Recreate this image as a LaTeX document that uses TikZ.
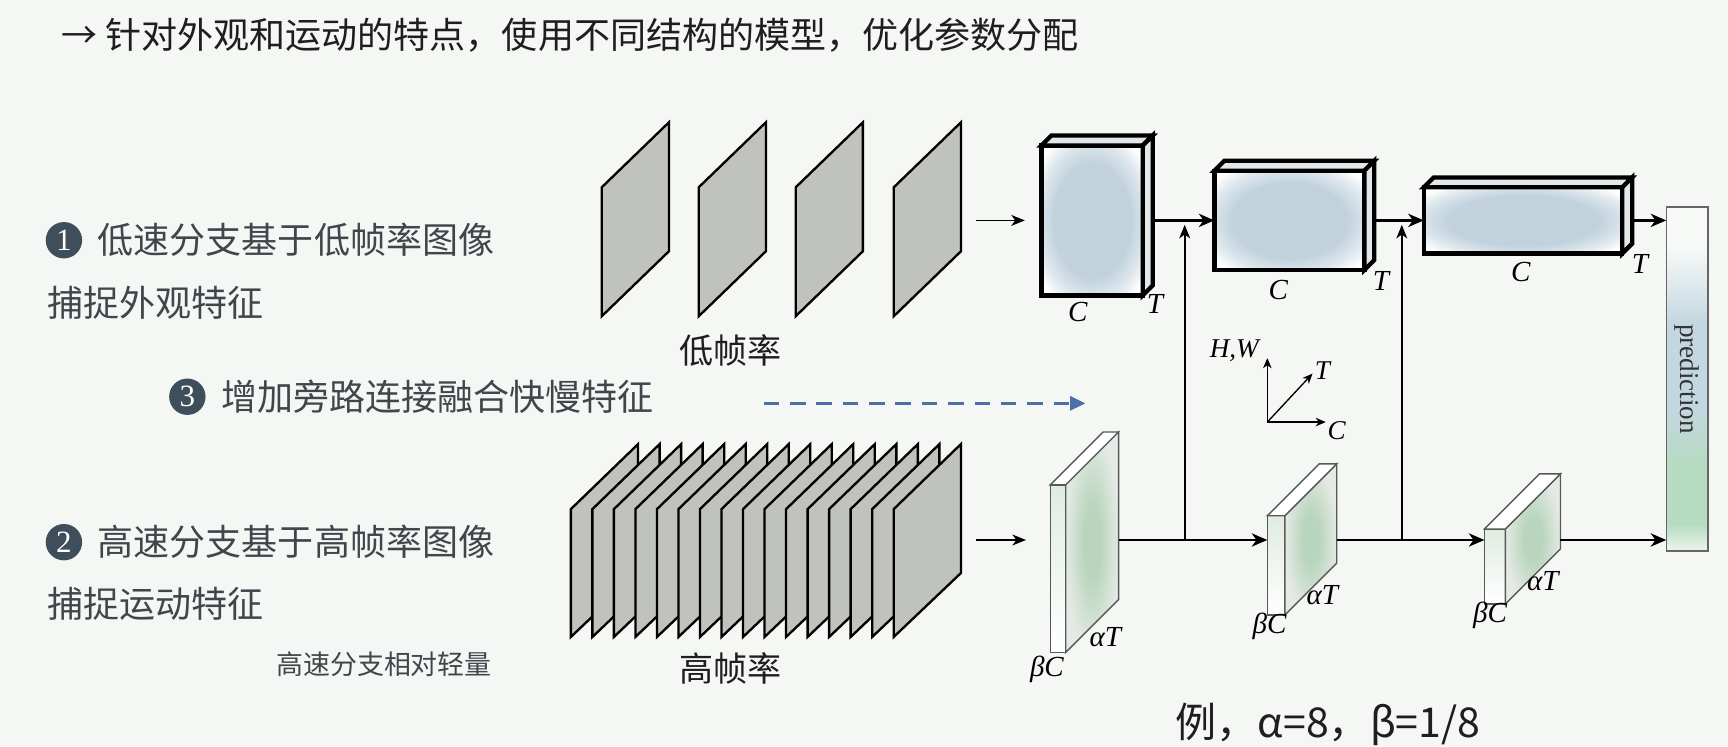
\documentclass[tikz,border=0pt]{standalone}
\usepackage{fontspec}
\setmainfont{Liberation Serif}
\newfontfamily\cjk{Noto Sans CJK SC}
\newfontfamily\tms{Liberation Serif}
\usetikzlibrary{arrows.meta,calc}
\definecolor{bgcol}{HTML}{F5F7F4}
\definecolor{titlecol}{HTML}{1E1E1E}
\definecolor{txtcol}{HTML}{40474C}
\definecolor{circcol}{HTML}{3E4E5B}
\definecolor{framecol}{HTML}{C0C2BD}
\definecolor{sblue}{HTML}{C1D2DD}
\definecolor{sdepthcol}{HTML}{E2E8EA}
\definecolor{fgreen}{HTML}{B9D5BD}
\definecolor{fedge}{HTML}{E6EAE6}
\definecolor{flinecol}{HTML}{555A55}
\definecolor{dashcol}{HTML}{4D6FA8}
\definecolor{pbot}{HTML}{EEF5EE}
\definecolor{pgreen}{HTML}{B5DBC0}
\definecolor{pblue}{HTML}{C3D7E0}
\definecolor{ptop}{HTML}{F7F9F7}
\pgfdeclareradialshading{slowshade}{\pgfpoint{0bp}{0bp}}{color(0bp)=(sblue); color(19bp)=(sblue); color(26bp)=(sblue!55!white); color(32bp)=(white); color(50bp)=(white)}
\pgfdeclareradialshading{fastshade}{\pgfpoint{0bp}{0bp}}{color(0bp)=(fgreen); color(8bp)=(fgreen); color(26bp)=(fedge); color(50bp)=(fedge)}
\pgfdeclareverticalshading{predshade}{100bp}{color(0bp)=(pbot); color(25bp)=(pbot); color(29bp)=(pgreen); color(37bp)=(pgreen); color(46bp)=(pblue); color(58bp)=(pblue); color(69bp)=(ptop); color(75bp)=(ptop); color(100bp)=(ptop)}
\begin{document}
\begin{tikzpicture}[x=0.01cm,y=-0.01cm,
  cjkbig/.style={font=\cjk\fontsize{9.3pt}{11pt}\selectfont},
  lefttxt/.style={cjkbig, text=txtcol, inner sep=0, anchor=west},
  numcirc/.style={circle, fill=circcol, text=white, minimum size=0.33cm, inner sep=0, font=\tms\fontsize{8pt}{8pt}\selectfont},
  framebox/.style={fill=framecol, draw=black, line width=0.6pt, line join=miter},
  sface/.style={draw=black, line width=1.1pt, outer sep=0, inner sep=0, shading=slowshade},
  sdepth/.style={draw=black, line width=1.1pt, fill=sdepthcol, line join=miter},
  fface/.style={draw=flinecol, line width=0.35pt, outer sep=0, inner sep=0, top color=fgreen!45!white, bottom color=white},
  fside/.style={draw=flinecol, line width=0.35pt, shading=fastshade},
  ftop/.style={draw=flinecol, line width=0.35pt, fill=white},
  lbl/.style={font=\tms\itshape\fontsize{7.5pt}{8pt}\selectfont, inner sep=0},
  tip/.style={-{Stealth[length=4pt,width=3.4pt,inset=1.2pt]}},
  slowline/.style={line width=0.9pt, tip},
  fastline/.style={line width=0.7pt, tip},
  thinarrow/.style={line width=0.45pt, -{Stealth[length=3.5pt,width=2.8pt,inset=1pt]}},
  axisarrow/.style={line width=0.35pt, -{Stealth[length=2.6pt,width=2.2pt,inset=0.8pt]}},
  dashblue/.style={draw=dashcol, line width=0.85pt, dash pattern=on 4pt off 2.8pt, -{Triangle[length=4pt,width=3.6pt]}}
]
\fill[bgcol] (0,0) rectangle (1568,677);
\useasboundingbox (0,0) rectangle (1568,677);

% title
\node[cjkbig, text=titlecol, anchor=west, inner sep=0] (title) at (55,32) {→ 针对外观和运动的特点，使用不同结构的模型，优化参数分配};

% left texts
\node[numcirc] (n1) at (58,218) {1};
\node[lefttxt] (t1) at (88,218) {低速分支基于低帧率图像};
\node[lefttxt] (t1b) at (42,275) {捕捉外观特征};
\node[numcirc] (n3) at (170,360) {3};
\node[lefttxt] (t3) at (200,360) {增加旁路连接融合快慢特征};
\node[numcirc] (n2) at (58,492) {2};
\node[lefttxt] (t2) at (88,492) {高速分支基于高帧率图像};
\node[lefttxt] (t2b) at (42,548) {捕捉运动特征};
\node[font=\cjk\fontsize{6.95pt}{8pt}\selectfont, text=txtcol, inner sep=0, anchor=west] (t2c) at (250,603) {高速分支相对轻量};

% slow frames
\foreach \L in {546,634,722,811}
  \draw[framebox] (\L,170) -- (\L+61,111) -- (\L+61,228) -- (\L,287) -- cycle;
\node[font=\cjk\fontsize{8.8pt}{10pt}\selectfont, text=titlecol, inner sep=0] (lowfr) at (663,318) {低帧率};

% fast frames
\foreach \i in {0,...,15} {
  \pgfmathsetmacro\L{518+\i*19.53}
  \draw[framebox] (\L,462) -- (\L+61,403) -- (\L+61,520) -- (\L,578) -- cycle;
}
\node[font=\cjk\fontsize{8.8pt}{10pt}\selectfont, text=titlecol, inner sep=0] (highfr) at (663,607) {高帧率};

% dashed lateral hint
\coordinate (dashS) at (693,366);
\coordinate (dashE) at (985,366);
\draw[dashblue] (dashS) -- (dashE);

% slow blocks
\node[sface, minimum width=0.92cm, minimum height=1.36cm] (B1) at (991,200) {};
\node[sface, minimum width=1.36cm, minimum height=0.90cm] (B2) at (1170,200) {};
\node[sface, minimum width=1.80cm, minimum height=0.60cm] (B3) at (1382,200) {};
\foreach \b in {B1,B2,B3} {
  \draw[sdepth] (\b.north west) -- ++(9,-9) -- ($(\b.north east)+(9,-9)$) -- (\b.north east) -- cycle;
  \draw[sdepth] (\b.north east) -- ++(9,-9) -- ($(\b.south east)+(9,-9)$) -- (\b.south east) -- cycle;
}
\node[lbl] (B1c) at (978,283) {C};
\node[lbl] (B1t) at (1048,276) {T};
\node[lbl] (B2c) at (1160,263) {C};
\node[lbl] (B2t) at (1253,255) {T};
\node[lbl] (B3c) at (1380,247) {C};
\node[lbl] (B3t) at (1488,240) {T};

% fast slabs
\node[fface, minimum width=0.14cm, minimum height=1.52cm] (F1) at (960,516) {};
\node[fface, minimum width=0.16cm, minimum height=0.90cm] (F2) at (1158,513) {};
\node[fface, minimum width=0.19cm, minimum height=0.68cm] (F3) at (1356.5,514) {};
\foreach \f/\d in {F1/48,F2/47,F3/50} {
  \path[fside] (\f.north east) -- ++(\d,-\d) -- ($(\f.south east)+(\d,-\d)$) -- (\f.south east) -- cycle;
  \draw[ftop] (\f.north west) -- ++(\d,-\d) -- ($(\f.north east)+(\d,-\d)$) -- (\f.north east) -- cycle;
  \coordinate (\f bt) at ($(\f.north east)+(\d,-\d)$);
}
\node[lbl] (F1a) at (1003,578) {αT};
\node[lbl] (F1b) at (950,607) {βC};
\node[lbl] (F2a) at (1200,540) {αT};
\node[lbl] (F2b) at (1152,568) {βC};
\node[lbl] (F3a) at (1400,527) {αT};
\node[lbl] (F3b) at (1352,558) {βC};

% prediction
\node[draw=gray!80!black, line width=0.4pt, shading=predshade, minimum width=0.38cm, minimum height=3.12cm, inner sep=0, outer sep=0] (P) at (1531,344) {};
\node[rotate=-90, font=\tms\fontsize{7pt}{8pt}\selectfont, text=black!80, inner sep=0] (Ptxt) at (P.center) {prediction};

% input arrows
\coordinate (sIn) at (886,200);
\coordinate (fIn) at (886,490);
\coordinate (fl) at (0,490);
\draw[thinarrow] (sIn) -- ([xshift=-0.15cm]B1.west);
\draw[thinarrow] (fIn) -- ([xshift=-0.22cm]F1.west |- fl);

% slow path
\draw[slowline] ($(B1.east)+(9,0)$) -- (B2.west);
\draw[slowline] ($(B2.east)+(9,0)$) -- (B3.west);
\draw[slowline] ($(B3.east)+(9,0)$) -- (P.west |- B3.east);

% fast path
\draw[fastline] (F1bt |- fl) -- (F2.west |- fl);
\draw[fastline] (F2bt |- fl) -- (F3.west |- fl);
\draw[fastline] (F3bt |- fl) -- (P.west |- fl);

% lateral connections
\coordinate (J1) at (1075,490);
\coordinate (J2) at (1272,490);
\coordinate (K1) at (1075,204);
\coordinate (K2) at (1272,204);
\draw[thinarrow] (J1) -- (K1);
\draw[thinarrow] (J2) -- (K2);

% axis
\coordinate (O) at (1150,383);
\coordinate (Ah) at (1150,325);
\coordinate (At) at (1191,339);
\coordinate (Ac) at (1203,383);
\draw[axisarrow] (O) -- (Ah);
\draw[axisarrow] (O) -- (At);
\draw[axisarrow] (O) -- (Ac);
\node[lbl, font=\tms\itshape\fontsize{7pt}{8pt}\selectfont] (HW) at (1120,318) {H,W};
\node[lbl, font=\tms\itshape\fontsize{7pt}{8pt}\selectfont] (Tl) at (1200,336) {T};
\node[lbl, font=\tms\itshape\fontsize{7pt}{8pt}\selectfont] (Cl) at (1213,391) {C};

% example
\node[font=\cjk\fontsize{10.6pt}{12pt}\selectfont, text=titlecol, inner sep=0] (ex) at (1205,657) {例，α=8，β=1/8};
\end{tikzpicture}
\end{document}
